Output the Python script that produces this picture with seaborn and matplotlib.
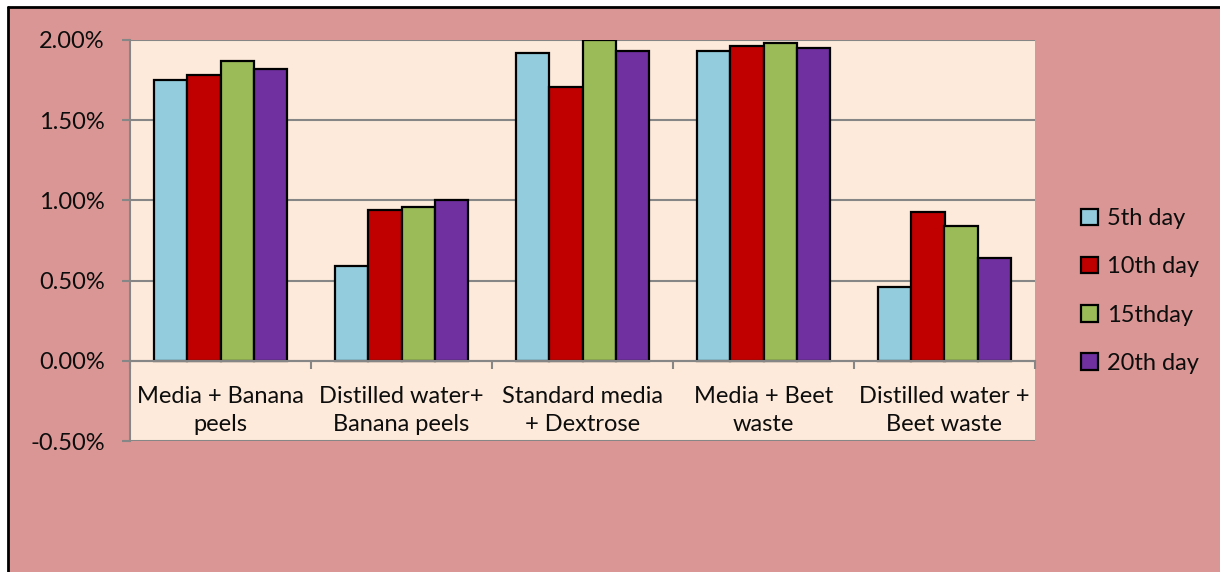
import matplotlib
matplotlib.use("Agg")
import matplotlib.pyplot as plt
import seaborn as sns
import pandas as pd
from matplotlib.ticker import PercentFormatter, FixedLocator
from matplotlib.patches import Rectangle
from matplotlib.lines import Line2D

categories = ["Media + Banana\npeels", "Distilled water+\nBanana peels",
              "Standard media\n+ Dextrose", "Media + Beet\nwaste",
              "Distilled water +\nBeet waste"]
series = ["5th day", "10th day", "15thday", "20th day"]
day5 = [1.75, 0.59, 1.92, 1.93, 0.46]
day10 = [1.78, 0.94, 1.71, 1.96, 0.93]
day15 = [1.87, 0.96, 2.00, 1.98, 0.84]
day20 = [1.82, 1.00, 1.93, 1.95, 0.64]
colors = ["#93CDDD", "#C00000", "#9BBB59", "#7030A0"]

rows = []
for s, vals in zip(series, [day5, day10, day15, day20]):
    for c, v in zip(categories, vals):
        rows.append({"category": c, "day": s, "value": v})
df = pd.DataFrame(rows)

sns.set_theme(style="white")
plt.rcParams['font.family'] = ['Lato', 'DejaVu Sans']
plt.rcParams['axes.unicode_minus'] = False

W, H = 1220, 572
fig = plt.figure(figsize=(W / 100, H / 100), dpi=100)
fig.patch.set_facecolor("white")
fig.add_artist(Rectangle((8 / W, 0), 1 - 8 / W, 1 - 7 / H, transform=fig.transFigure,
                         facecolor="#D99694", edgecolor="none", zorder=-10))
fig.add_artist(Line2D([8 / W, 8 / W], [0, 1 - 7 / H], transform=fig.transFigure,
                      color="black", linewidth=2))
fig.add_artist(Line2D([8 / W, 1], [1 - 7 / H, 1 - 7 / H], transform=fig.transFigure,
                      color="black", linewidth=2))

ax = fig.add_axes([130 / W, (H - 441) / H, (1035 - 130) / W, (441 - 40) / H])
ax.set_facecolor("#FDEADA")

sns.barplot(data=df, x="category", y="value", hue="day", palette=colors,
            order=categories, hue_order=series, width=0.73, gap=0, saturation=1,
            edgecolor="black", linewidth=1.6, ax=ax, legend=True)

ax.set_ylim(-0.5, 2.0)
ax.set_xlim(-0.5, len(categories) - 0.5)
ax.yaxis.set_major_locator(FixedLocator([-0.5, 0, 0.5, 1.0, 1.5, 2.0]))
ax.yaxis.set_major_formatter(PercentFormatter(100, decimals=2))
ax.grid(axis="y", color="#868686", linewidth=1.5, zorder=0)
ax.set_axisbelow(True)
ax.set_xlabel("")
ax.set_ylabel("")

for side in ["top", "right"]:
    ax.spines[side].set_visible(False)
ax.spines["left"].set_color("#868686")
ax.spines["left"].set_linewidth(1.5)
ax.spines["bottom"].set_position(("data", 0))
ax.spines["bottom"].set_color("#868686")
ax.spines["bottom"].set_linewidth(1.5)

ax.tick_params(axis="y", which="major", direction="out", length=6, width=1.5,
               color="#868686", pad=12, labelsize=17, labelcolor="#0D0D0D", left=True)
ax.set_xticks(range(len(categories)))
ax.set_xticklabels(categories, fontsize=17, color="#0D0D0D", linespacing=1.45)
ax.xaxis.set_minor_locator(FixedLocator([i - 0.5 for i in range(len(categories) + 1)]))
ax.tick_params(axis="x", which="major", length=0, pad=18)
ax.tick_params(axis="x", which="minor", direction="out", length=6, width=1.5,
               color="#868686", bottom=True)

handles, labels = ax.get_legend_handles_labels()
ax.legend(handles, labels, loc="center left", bbox_to_anchor=(1060 / W, 1 - 291 / H),
          bbox_transform=fig.transFigure, frameon=False, fontsize=17,
          handlelength=0.7, handleheight=0.7, handletextpad=0.4,
          labelspacing=1.15, labelcolor="#0D0D0D")

fig.savefig("out.png", dpi=100, facecolor=fig.get_facecolor())
